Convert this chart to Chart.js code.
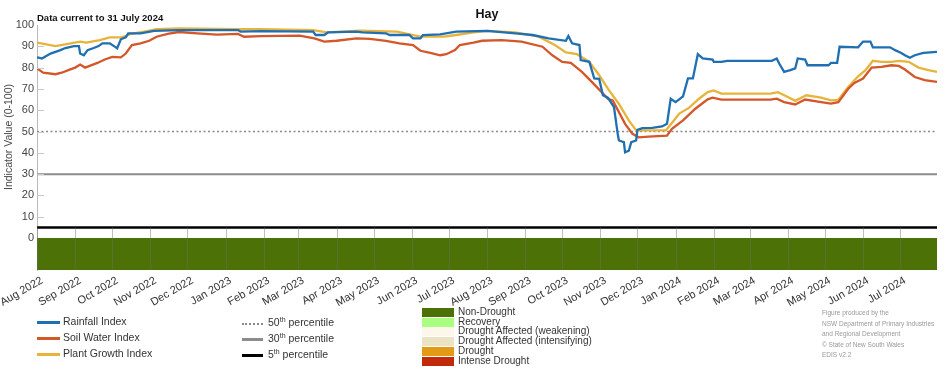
<!DOCTYPE html>
<html>
<head>
<meta charset="utf-8">
<script src="https://cdn.jsdelivr.net/npm/chart.js@4.4.1/dist/chart.umd.min.js"></script>
<style>
  body { margin: 0; background: #fff; font-family: "Liberation Sans", Arial, sans-serif; color: #333; }
  #wrap { position: relative; width: 952px; height: 370px; overflow: hidden; }
  #chartBox { position: absolute; left: 0; top: 0; width: 952px; height: 315px; }
  .abs { position: absolute; white-space: nowrap; }
  #title { left: 0; width: 974px; top: 7px; text-align: center; font-weight: bold; font-size: 12.5px; color: #111; }
  #current { left: 37px; top: 12px; font-weight: bold; font-size: 9.5px; color: #111; }
  #yTitle { left: 8px; top: 137px; font-size: 10.5px; color: #444; transform: translate(-50%, -50%) rotate(-90deg); }
  .lg { font-size: 10.5px; color: #333; }
  .lg .sw { position: absolute; left: 0; width: 23px; top: 6px; height: 0; border-top: 3px solid; }
  .lg span.t { position: absolute; left: 26px; top: 0; }
  .st { font-size: 10px; color: #333; }
  .st .bx { position: absolute; left: 0; top: 1px; width: 32px; height: 9px; }
  .st span.t { position: absolute; left: 36px; top: -1px; }
  #foot { left: 822px; top: 308px; font-size: 6.5px; line-height: 10.6px; color: #999; }
  sup { font-size: 7px; line-height: 0; }
</style>
</head>
<body>
<div id="wrap">
  <div id="chartBox"><canvas id="hayChart"></canvas></div>
  <div id="title" class="abs">Hay</div>
  <div id="current" class="abs">Data current to 31 July 2024</div>
  <div id="yTitle" class="abs">Indicator Value (0-100)</div>

  <div class="abs lg" style="left:37px;top:315px"><div class="sw" style="border-color:#1f6fb2"></div><span class="t">Rainfall Index</span></div>
  <div class="abs lg" style="left:37px;top:331px"><div class="sw" style="border-color:#d4572a"></div><span class="t">Soil Water Index</span></div>
  <div class="abs lg" style="left:37px;top:347px"><div class="sw" style="border-color:#e8b33a"></div><span class="t">Plant Growth Index</span></div>

  <div class="abs lg" style="left:242px;top:316px"><div class="sw" style="border-top:2px dotted #8a8a8a;width:21px;top:7px"></div><span class="t">50<sup>th</sup> percentile</span></div>
  <div class="abs lg" style="left:242px;top:332px"><div class="sw" style="border-color:#8c8c8c;width:21px"></div><span class="t">30<sup>th</sup> percentile</span></div>
  <div class="abs lg" style="left:242px;top:348px"><div class="sw" style="border-color:#000;width:21px"></div><span class="t">5<sup>th</sup> percentile</span></div>

  <div id="statusLegend"></div>

  <div id="foot" class="abs">Figure produced by the<br>NSW Department of Primary Industries<br>and Regional Development<br>© State of New South Wales<br>EDIS v2.2</div>
</div>
<script>
// days counted from 1 Aug 2022
const monthLabels = ['Aug 2022', 'Sep 2022', 'Oct 2022', 'Nov 2022', 'Dec 2022', 'Jan 2023', 'Feb 2023', 'Mar 2023',
  'Apr 2023', 'May 2023', 'Jun 2023', 'Jul 2023', 'Aug 2023', 'Sep 2023', 'Oct 2023', 'Nov 2023', 'Dec 2023',
  'Jan 2024', 'Feb 2024', 'Mar 2024', 'Apr 2024', 'May 2024', 'Jun 2024', 'Jul 2024'];
const monthStartDays = [0, 31, 61, 92, 122, 153, 184, 212, 243, 273, 304, 334, 365, 396, 426, 457, 487, 518, 549, 578, 609, 639, 670, 700];
const lastDay = 730;
const yTicks = [0, 10, 20, 30, 40, 50, 60, 70, 80, 90, 100];

const rainfallDays = [0, 4, 11, 19, 23, 30, 34, 35, 38, 41, 46, 50, 53, 59, 64, 65, 68, 72, 74, 84, 95, 116, 163, 165, 182,
  224, 226, 233, 236, 259, 264, 283, 286, 302, 305, 311, 313, 327, 340, 365, 388, 402, 415, 429, 431, 434, 440, 441, 448,
  452, 456, 459, 463, 468, 471, 472, 476, 477, 480, 482, 486, 487, 491, 499, 507, 511, 514, 518, 524, 528, 532, 536, 540,
  548, 549, 555, 560, 596, 600, 602, 606, 611, 615, 617, 623, 625, 642, 644, 649, 651, 666, 670, 676, 678, 692, 696, 701,
  704, 708, 712, 719, 730];
const rainfallValues = [84.8, 84.3, 86.6, 88.2, 89.2, 90.1, 90.1, 86.6, 85.8, 88.2, 89.2, 90.1, 91.4, 91.4, 89.5, 89, 93.3,
  94.2, 96.1, 96.1, 97.2, 97.6, 97.6, 96.9, 97.1, 96.9, 95.3, 95.3, 96.5, 96.9, 96.5, 96.1, 95.3, 95.3, 93.7, 93.7, 95.3,
  95.6, 96.9, 97.2, 96.1, 95.3, 93.7, 92.6, 94.8, 91.4, 90.6, 83.5, 82.7, 74.9, 74.7, 67, 65.9, 61.5, 48.9, 45.8, 45, 40.2,
  41, 45, 45.8, 50.8, 51.6, 51.7, 52.4, 53.6, 65.4, 63.8, 66.5, 74.9, 74.9, 86.3, 84.3, 83.8, 82.7, 82.7, 83.2, 83.2, 84.3,
  81.9, 78, 78.8, 79.6, 84.3, 83.8, 81.1, 81.1, 82.2, 82.2, 89.8, 89.5, 92.2, 92.2, 89.5, 89.5, 88.2, 86.9, 85.8, 84.6,
  85.8, 86.9, 87.4];

const soilDays = [0, 5, 15, 20, 27, 31, 35, 39, 49, 55, 61, 68, 72, 77, 84, 91, 97, 106, 115, 130, 146, 163, 168, 182, 213,
  225, 233, 243, 259, 270, 283, 294, 305, 311, 319, 327, 332, 339, 343, 354, 361, 377, 393, 410, 418, 426, 433, 442, 450,
  458, 463, 467, 472, 477, 483, 488, 496, 511, 515, 524, 534, 544, 548, 555, 595, 600, 606, 615, 623, 636, 644, 650, 658,
  663, 670, 677, 685, 693, 699, 704, 712, 720, 730];
const soilValues = [79.6, 77.6, 76.9, 77.6, 79.2, 80, 81.4, 80, 82.2, 83.8, 85, 84.8, 86.6, 90.6, 91.4, 92.6, 94.5, 95.8,
  96.7, 96.1, 95.5, 95.8, 94.5, 94.8, 95, 93.7, 92.2, 92.6, 93.7, 93.5, 92.6, 91.4, 90.6, 87.9, 86.9, 85.8, 86.3, 88.2,
  90.6, 91.7, 92.6, 92.9, 92.2, 89.8, 85.8, 82.7, 82.2, 78, 73.3, 68.5, 65.4, 64.6, 59.1, 53.6, 48.9, 47.3, 47.6, 48.1,
  51.3, 55.2, 60.7, 65.1, 65.9, 65, 65, 65.4, 63.8, 62.7, 65, 63.8, 63.1, 63.8, 70.1, 72.8, 74.9, 80, 80.3, 81.1, 80.8,
  79.1, 75.6, 74.1, 73.3];

const plantDays = [0, 15, 24, 35, 40, 51, 59, 69, 76, 87, 97, 116, 163, 182, 224, 235, 262, 292, 305, 311, 330, 340, 354,
  365, 388, 407, 420, 429, 438, 448, 456, 464, 472, 480, 486, 491, 510, 514, 521, 529, 537, 544, 549, 555, 595, 601, 609,
  615, 624, 636, 644, 650, 658, 666, 672, 678, 685, 693, 699, 707, 715, 723, 730];
const plantValues = [91.7, 90.1, 91, 92.2, 91.7, 92.9, 94.2, 94.2, 95.8, 96.9, 98, 98.4, 98, 98, 97.6, 96.5, 97.3, 96.9,
  95.3, 94.5, 94.5, 95.3, 96.5, 97.2, 96.5, 94.5, 90.6, 87.1, 86.3, 82.7, 76.4, 69.3, 63, 55.2, 50.5, 50.5, 50.5, 53.3,
  58.4, 61.2, 65.4, 68.5, 69.3, 67.8, 67.8, 68.5, 66.2, 64.4, 67, 65.9, 64.6, 64.9, 70.9, 75.9, 78.8, 83.2, 82.7, 82.7,
  83.2, 82.7, 80, 78.8, 78];

const percentileNames = ['50th percentile', '30th percentile', '5th percentile'];
const percentileValues = [50, 30, 5];

// drought status band below zero: whole period Non-Drought
const statusNames = ['Non-Drought', 'Recovery', 'Drought Affected (weakening)', 'Drought Affected (intensifying)', 'Drought', 'Intense Drought'];
const statusColors = ['#4c7106', '#a8ff80', '#fdf6ea', '#ece3c4', '#e39a14', '#c02a0a'];
const bandDays = [0, lastDay];
const bandStatus = ['Non-Drought', 'Non-Drought'];
const bandFloor = -15;

const toPoints = (days, vals) => days.map((d, i) => ({ x: d, y: vals[i] }));

// status legend (html)
const sl = document.getElementById('statusLegend');
statusNames.forEach((name, i) => {
  const row = document.createElement('div');
  row.className = 'abs st';
  row.style.left = '422px';
  row.style.top = (307 + i * 9.7) + 'px';
  row.innerHTML = '<div class="bx" style="background:' + statusColors[i] + '"></div><span class="t">' + name + '</span>';
  sl.appendChild(row);
});

// vertical month lines in the lower strip and small y tick marks
const stripLines = {
  id: 'stripLines',
  afterDatasetsDraw(chart) {
    const { ctx, scales: { x, y }, chartArea } = chart;
    ctx.save();
    ctx.lineWidth = 1;
    ctx.strokeStyle = 'rgba(110,110,110,0.45)';
    monthStartDays.forEach(d => {
      const px = Math.round(x.getPixelForValue(d)) + 0.5;
      ctx.beginPath();
      ctx.moveTo(px, y.getPixelForValue(5));
      ctx.lineTo(px, chartArea.bottom);
      ctx.stroke();
    });
    ctx.strokeStyle = '#c8c8c8';
    yTicks.forEach(v => {
      if (v === 0 || v === 100) return;
      const py = Math.round(y.getPixelForValue(v)) + 0.5;
      ctx.beginPath();
      ctx.moveTo(chartArea.left, py);
      ctx.lineTo(chartArea.left + 7, py);
      ctx.stroke();
    });
    ctx.restore();
  }
};

const bandIdx = statusNames.indexOf(bandStatus[0]);

new Chart(document.getElementById('hayChart').getContext('2d'), {
  type: 'line',
  data: {
    datasets: [
      {
        label: 'Status',
        data: toPoints(bandDays, [0, 0]),
        borderWidth: 0,
        pointRadius: 0,
        backgroundColor: statusColors[bandIdx],
        fill: { value: bandFloor },
        order: 10
      },
      {
        label: percentileNames[0],
        data: toPoints(bandDays, [percentileValues[0], percentileValues[0]]),
        borderColor: '#8a8a8a',
        borderWidth: 1.6,
        borderDash: [2, 2.5],
        pointRadius: 0,
        order: 5
      },
      {
        label: percentileNames[1],
        data: toPoints(bandDays, [percentileValues[1], percentileValues[1]]),
        borderColor: '#8c8c8c',
        borderWidth: 2,
        pointRadius: 0,
        order: 5
      },
      {
        label: percentileNames[2],
        data: toPoints(bandDays, [percentileValues[2], percentileValues[2]]),
        borderColor: '#000',
        borderWidth: 2.5,
        pointRadius: 0,
        order: 5
      },
      {
        label: 'Plant Growth Index',
        data: toPoints(plantDays, plantValues),
        borderColor: '#e8b33a',
        borderWidth: 2.3,
        pointRadius: 0,
        order: 3
      },
      {
        label: 'Soil Water Index',
        data: toPoints(soilDays, soilValues),
        borderColor: '#d4572a',
        borderWidth: 2.3,
        pointRadius: 0,
        order: 2
      },
      {
        label: 'Rainfall Index',
        data: toPoints(rainfallDays, rainfallValues),
        borderColor: '#1f6fb2',
        borderWidth: 2.3,
        pointRadius: 0,
        order: 1
      }
    ]
  },
  options: {
    responsive: true,
    maintainAspectRatio: false,
    animation: false,
    layout: { padding: { top: 25, right: 15, left: 0, bottom: 0 } },
    plugins: {
      legend: { display: false },
      tooltip: { enabled: false }
    },
    scales: {
      x: {
        type: 'linear',
        min: 0,
        max: lastDay,
        afterBuildTicks: scale => { scale.ticks = monthStartDays.map(v => ({ value: v })); },
        afterFit: scale => {
          scale.height = 45;
          scale.paddingLeft = 0;
          scale.paddingRight = 0;
        },
        ticks: {
          maxRotation: 30,
          minRotation: 30,
          autoSkip: false,
          padding: -4,
          labelOffset: 5,
          color: '#333',
          font: { family: 'Liberation Sans', size: 11 },
          callback: v => monthLabels[monthStartDays.indexOf(v)]
        },
        grid: { display: false },
        border: { display: false }
      },
      y: {
        min: bandFloor,
        max: 100,
        afterBuildTicks: scale => { scale.ticks = yTicks.map(v => ({ value: v })); },
        afterFit: scale => { scale.width = 37; },
        ticks: {
          color: '#444',
          padding: 3,
          font: { family: 'Liberation Sans', size: 11 }
        },
        grid: { display: false, drawTicks: false },
        border: { display: true, color: '#bbb', width: 1 }
      }
    }
  },
  plugins: [stripLines]
});
</script>
</body>
</html>
